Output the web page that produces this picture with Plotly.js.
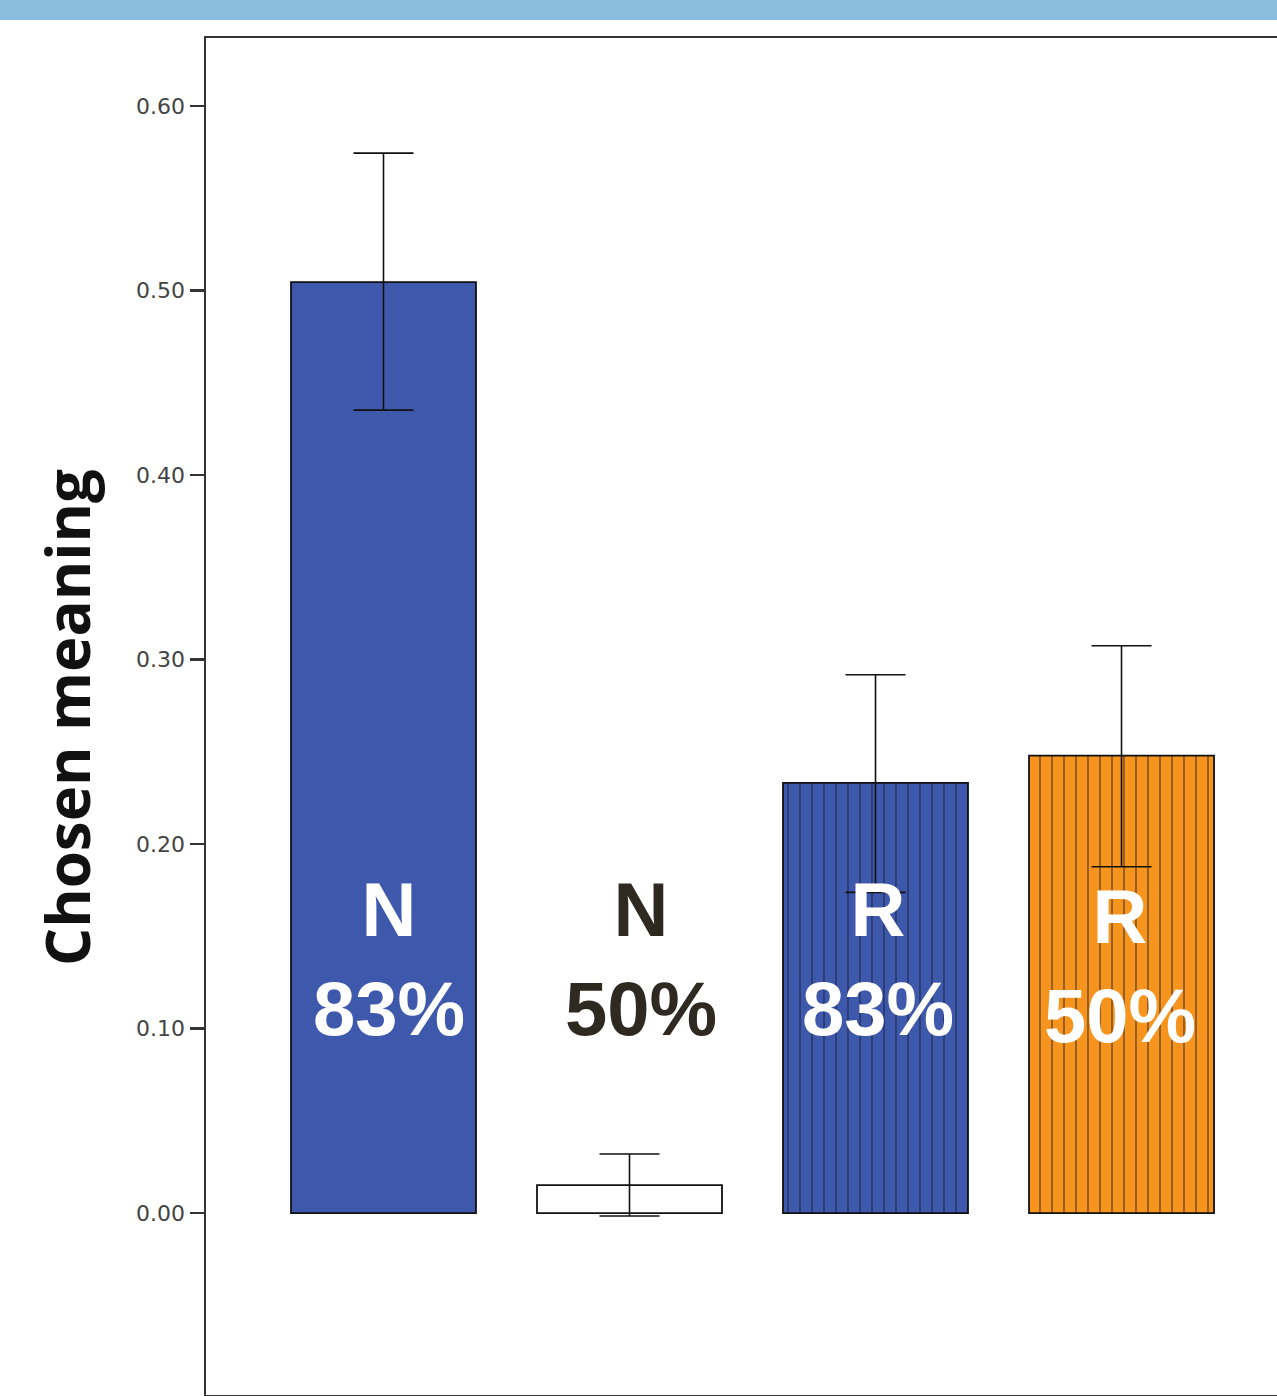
<!DOCTYPE html>
<html>
<head>
<meta charset="utf-8">
<script src="https://cdn.plot.ly/plotly-3.0.1.min.js"></script>
<style>
html, body { margin: 0; padding: 0; background: #ffffff; }
#chart { width: 1277px; height: 1396px; }
</style>
</head>
<body>
<div id="chart"></div>
<script>
// ---- data ----
var categories = ["N 83%", "N 50%", "R 83%", "R 50%"];
var labelLetters = ["N", "N", "R", "R"];
var labelPercents = ["83%", "50%", "83%", "50%"];
var means = [0.5046, 0.0152, 0.2332, 0.2479];
var errPlus = [0.0699, 0.0168, 0.0586, 0.0596];
var errMinus = [0.0694, 0.0168, 0.0594, 0.0602];
var barColors = ["#3e59ab", "#ffffff", "#3e59ab", "#f7941d"];
var patterned = [false, false, true, true];
var labelColors = ["#ffffff", "#2e2a22", "#ffffff", "#ffffff"];
var yTicks = [-0.1, 0.0, 0.1, 0.2, 0.3, 0.4, 0.5, 0.6];

// ---- one trace per bar so each can carry its own fill ----
var traces = categories.map(function (c, i) {
  var marker = {
    color: barColors[i],
    line: { color: "#111111", width: 1.8 }
  };
  if (patterned[i]) {
    marker.pattern = {
      shape: "|",
      bgcolor: barColors[i],
      fgcolor: "#14142a",
      fgopacity: 0.5,
      size: 12,
      solidity: 0.14,
      fillmode: "replace"
    };
  }
  return {
    type: "bar",
    x: [c],
    y: [means[i]],
    width: 0.752,
    marker: marker,
    error_y: {
      type: "data",
      symmetric: false,
      array: [errPlus[i]],
      arrayminus: [errMinus[i]],
      color: "#111111",
      thickness: 1.6,
      width: 30
    },
    hoverinfo: "none"
  };
});

var annotations = categories.map(function (c, i) {
  return {
    x: c,
    y: i === 3 ? 0.134 : 0.1377,
    xref: "x",
    yref: "y",
    xshift: [5, 11, 2, -2][i],
    text: labelLetters[i] + "<br>" + labelPercents[i],
    showarrow: false,
    font: { family: "Liberation Sans, Arial, sans-serif", size: 76, color: labelColors[i], weight: "bold" },
    align: "center",
    xanchor: "center",
    yanchor: "middle"
  };
});

annotations.push({
  text: "Chosen meaning",
  xref: "paper",
  yref: "paper",
  x: (67 - 206) / 1071,
  y: 1 - (718 - 38) / 1357,
  xanchor: "center",
  yanchor: "middle",
  textangle: -90,
  showarrow: false,
  font: { family: "Open Sans, sans-serif", size: 60, color: "#111111", weight: "bold" }
});

var layout = {
  width: 1277,
  height: 1396,
  margin: { l: 206, r: 0, t: 38, b: 1, pad: 0 },
  paper_bgcolor: "#ffffff",
  plot_bgcolor: "#ffffff",
  showlegend: false,
  barmode: "overlay",
  xaxis: {
    type: "category",
    categoryorder: "array",
    categoryarray: categories,
    range: [-0.7215, 3.632],
    showticklabels: false,
    ticks: "",
    showgrid: false,
    zeroline: false,
    showline: true,
    linecolor: "#333333",
    linewidth: 2.5,
    mirror: true
  },
  yaxis: {
    range: [-0.0986, 0.6369],
    tickvals: yTicks,
    tickformat: ".2f",
    ticks: "outside",
    ticklen: 14,
    tickwidth: 2.5,
    tickcolor: "#333333",
    showgrid: false,
    zeroline: false,
    showline: true,
    linecolor: "#333333",
    linewidth: 2.5,
    tickfont: { family: "DejaVu Sans, sans-serif", size: 22, color: "#444444" }
  },
  shapes: [{
    type: "rect",
    xref: "paper",
    yref: "paper",
    x0: -206 / 1071,
    x1: 1,
    y0: 1 + 18 / 1357,
    y1: 1 + 38 / 1357,
    fillcolor: "#8bbbdd",
    line: { width: 0 },
    layer: "above"
  }],
  annotations: annotations
};

Plotly.newPlot("chart", traces, layout, { displayModeBar: false, staticPlot: true });
</script>
</body>
</html>
